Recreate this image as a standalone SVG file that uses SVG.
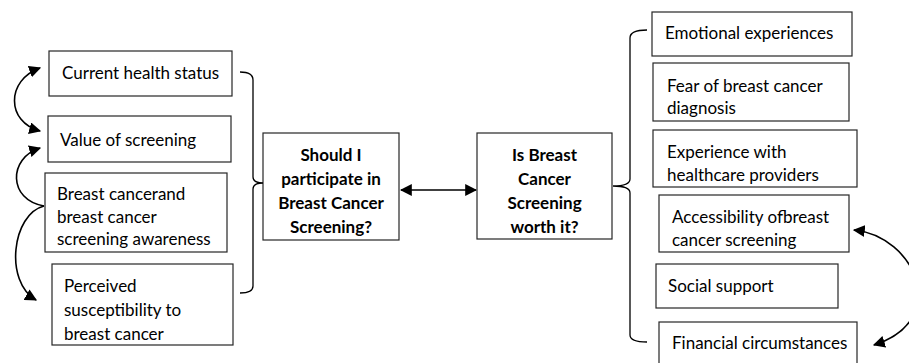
<svg xmlns="http://www.w3.org/2000/svg" width="909" height="363" viewBox="0 0 909 363">
<style>
.box{fill:#fff;stroke:#262626;stroke-width:1.2}
.t{font-family:Lato,"Liberation Sans",sans-serif;font-size:17px;fill:#000}
.b{font-family:Lato,"Liberation Sans",sans-serif;font-size:17px;font-weight:bold;fill:#000;text-anchor:middle}
.c{fill:none;stroke:#000;stroke-width:1.6}
.br{fill:none;stroke:#000;stroke-width:1.3}
</style>
<defs>
<marker id="ah" viewBox="0 0 10 10" refX="9" refY="5" markerWidth="12" markerHeight="12" markerUnits="userSpaceOnUse" orient="auto-start-reverse">
<path d="M0 0 L10 5 L0 10 Z" fill="#000"/>
</marker>
</defs>
<g id="n-current"><rect class="box" x="49" y="51" width="183" height="45"/><text class="t" x="62" y="79">Current health status</text></g>
<g id="n-value"><rect class="box" x="48" y="116" width="183" height="46"/><text class="t" x="60" y="146">Value of screening</text></g>
<g id="n-awareness"><rect class="box" x="45" y="173" width="182" height="79"/><text class="t" x="57" y="200">Breast cancerand</text><text class="t" x="57" y="223">breast cancer</text><text class="t" x="57" y="245">screening awareness</text></g>
<g id="n-perceived"><rect class="box" x="52" y="264" width="181" height="81"/><text class="t" x="64" y="292">Perceived</text><text class="t" x="64" y="316">susceptibility to</text><text class="t" x="64" y="340">breast cancer</text></g>
<g id="n-should"><rect class="box" x="263" y="133" width="136" height="107"/><text class="b" x="331" y="161">Should I</text><text class="b" x="331" y="185">participate in</text><text class="b" x="331" y="209">Breast Cancer</text><text class="b" x="331" y="233">Screening?</text></g>
<g id="n-worth"><rect class="box" x="477" y="133" width="135" height="106"/><text class="b" x="544.5" y="161">Is Breast</text><text class="b" x="544.5" y="185">Cancer</text><text class="b" x="544.5" y="209">Screening</text><text class="b" x="544.5" y="233">worth it?</text></g>
<g id="n-emotional"><rect class="box" x="652" y="12" width="200" height="44"/><text class="t" x="665" y="39">Emotional experiences</text></g>
<g id="n-fear"><rect class="box" x="653" y="63" width="196" height="58"/><text class="t" x="667" y="92">Fear of breast cancer</text><text class="t" x="667" y="114">diagnosis</text></g>
<g id="n-experience"><rect class="box" x="653" y="130" width="204" height="57"/><text class="t" x="667" y="158">Experience with</text><text class="t" x="667" y="181">healthcare providers</text></g>
<g id="n-access"><rect class="box" x="659" y="195" width="190" height="57"/><text class="t" x="672" y="223">Accessibility ofbreast</text><text class="t" x="672" y="246">cancer screening</text></g>
<g id="n-social"><rect class="box" x="656" y="264" width="182" height="44"/><text class="t" x="668" y="292">Social support</text></g>
<g id="n-financial"><rect class="box" x="659" y="322" width="198" height="45"/><text class="t" x="672" y="349">Financial circumstances</text></g>
<g id="connectors">
<path class="br" d="M240 72 Q253 72 253 80 L253 177 Q253 183 263 183 Q253 183 253 189 L253 286 Q253 293 240 293"/>
<path class="br" d="M647 30 Q630 30 630 38 L630 179 Q630 186 613 186 Q630 186 630 193 L630 335 Q630 342 647 342"/>
<path class="c" d="M401 190 L476 190" marker-start="url(#ah)" marker-end="url(#ah)"/>
<path class="c" d="M40 68 C6 80 6 122 40 131" marker-start="url(#ah)" marker-end="url(#ah)"/>
<path class="c" d="M44 206 C8 200 8 158 40 148" marker-end="url(#ah)"/>
<path class="c" d="M44 206 C12 214 4 282 36 300" marker-end="url(#ah)"/>
<path class="c" d="M854 230 C915 236 952 320 874 345" marker-start="url(#ah)" marker-end="url(#ah)"/>
</g>
</svg>
